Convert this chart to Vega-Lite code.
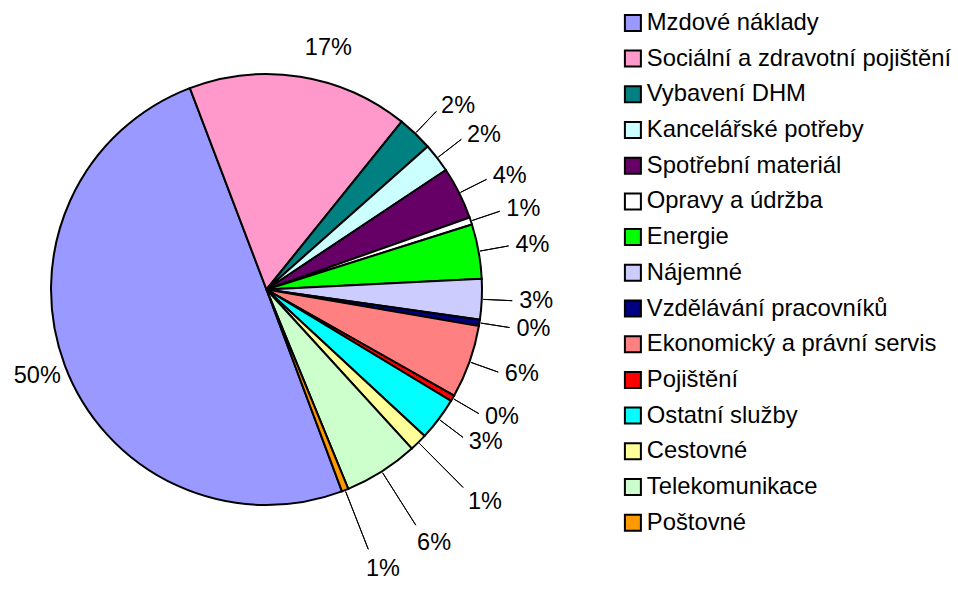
{
  "$schema": "https://vega.github.io/schema/vega-lite/v6.json",
  "width": 533,
  "height": 579,
  "padding": {"left": 0, "top": 0, "right": 425, "bottom": 10},
  "autosize": {"type": "none"},
  "background": "white",
  "config": {"view": {"stroke": null}, "font": "Liberation Sans"},
  "data": {
    "values": [
      {"i": 1, "c": "Mzdové náklady", "v": 50.0, "p": "50%"},
      {"i": 2, "c": "Sociální a zdravotní pojištění", "v": 16.6, "p": "17%"},
      {"i": 3, "c": "Vybavení DHM", "v": 2.67, "p": "2%"},
      {"i": 4, "c": "Kancelářské potřeby", "v": 2.2, "p": "2%"},
      {"i": 5, "c": "Spotřební materiál", "v": 3.94, "p": "4%"},
      {"i": 6, "c": "Opravy a údržba", "v": 0.54, "p": "1%"},
      {"i": 7, "c": "Energie", "v": 4.1, "p": "4%"},
      {"i": 8, "c": "Nájemné", "v": 3.03, "p": "3%"},
      {"i": 9, "c": "Vzdělávání pracovníků", "v": 0.47, "p": "0%"},
      {"i": 10, "c": "Ekonomický a právní servis", "v": 5.5, "p": "6%"},
      {"i": 11, "c": "Pojištění", "v": 0.45, "p": "0%"},
      {"i": 12, "c": "Ostatní služby", "v": 3.25, "p": "3%"},
      {"i": 13, "c": "Cestovné", "v": 1.33, "p": "1%"},
      {"i": 14, "c": "Telekomunikace", "v": 5.6, "p": "6%"},
      {"i": 15, "c": "Poštovné", "v": 0.5, "p": "1%"}
    ]
  },
  "encoding": {
    "theta": {"field": "v", "type": "quantitative", "stack": true, "scale": {"range": [2.7838, 9.067]}},
    "order": {"field": "i", "type": "quantitative"}
  },
  "layer": [
    {
      "mark": {"type": "arc", "outerRadius": 215.5, "stroke": "black", "strokeWidth": 2},
      "encoding": {
        "color": {
          "field": "c",
          "type": "nominal",
          "sort": null,
          "scale": {
            "domain": ["Mzdové náklady", "Sociální a zdravotní pojištění", "Vybavení DHM", "Kancelářské potřeby", "Spotřební materiál", "Opravy a údržba", "Energie", "Nájemné", "Vzdělávání pracovníků", "Ekonomický a právní servis", "Pojištění", "Ostatní služby", "Cestovné", "Telekomunikace", "Poštovné"],
            "range": ["#9999FF", "#FF99CC", "#008080", "#CCFFFF", "#660066", "#FFFFFF", "#00FF00", "#CCCCFF", "#000080", "#FF8080", "#FF0000", "#00FFFF", "#FFFF99", "#CCFFCC", "#FF9900"]
          },
          "legend": {
            "title": null,
            "orient": "none",
            "legendX": 621,
            "legendY": 11,
            "symbolType": "square",
            "symbolSize": 256,
            "symbolStrokeColor": "black",
            "symbolStrokeWidth": 2,
            "symbolOpacity": 1,
            "labelFontSize": 23.8,
            "labelFont": "Liberation Sans",
            "labelColor": "black",
            "labelLimit": 400,
            "labelOffset": 2,
            "rowPadding": 10.7,
            "padding": 0
          }
        }
      }
    },
    {
      "mark": {"type": "arc", "innerRadius": 217, "outerRadius": 246, "padAngle": 3, "fillOpacity": 0, "stroke": "black", "strokeWidth": 1},
      "encoding": {"strokeOpacity": {"condition": {"test": "datum.i >= 3 && datum.i <= 12", "value": 1}, "value": 0}}
    },
    {
      "mark": {"type": "arc", "innerRadius": 217, "outerRadius": 279, "padAngle": 3, "fillOpacity": 0, "stroke": "black", "strokeWidth": 1},
      "encoding": {"strokeOpacity": {"condition": {"test": "datum.i >= 13", "value": 1}, "value": 0}}
    },
    {
      "mark": {"type": "text", "radius": 245, "align": "center", "baseline": "middle", "fontSize": 23.5, "font": "Liberation Sans", "color": "black"},
      "encoding": {"text": {"condition": {"test": "datum.i == 1", "field": "p"}, "value": ""}}
    },
    {
      "mark": {"type": "text", "radius": 245, "align": "left", "baseline": "middle", "fontSize": 23.5, "font": "Liberation Sans", "color": "black"},
      "encoding": {"text": {"condition": {"test": "datum.i == 2", "field": "p"}, "value": ""}}
    },
    {
      "mark": {"type": "text", "radius": 253, "align": "left", "baseline": "middle", "fontSize": 23.5, "font": "Liberation Sans", "color": "black"},
      "encoding": {"text": {"condition": {"test": "datum.i >= 3 && datum.i <= 12", "field": "p"}, "value": ""}}
    },
    {
      "mark": {"type": "text", "radius": 300, "dx": -10, "align": "left", "baseline": "middle", "fontSize": 23.5, "font": "Liberation Sans", "color": "black"},
      "encoding": {"text": {"condition": {"test": "datum.i >= 13", "field": "p"}, "value": ""}}
    }
  ]
}
